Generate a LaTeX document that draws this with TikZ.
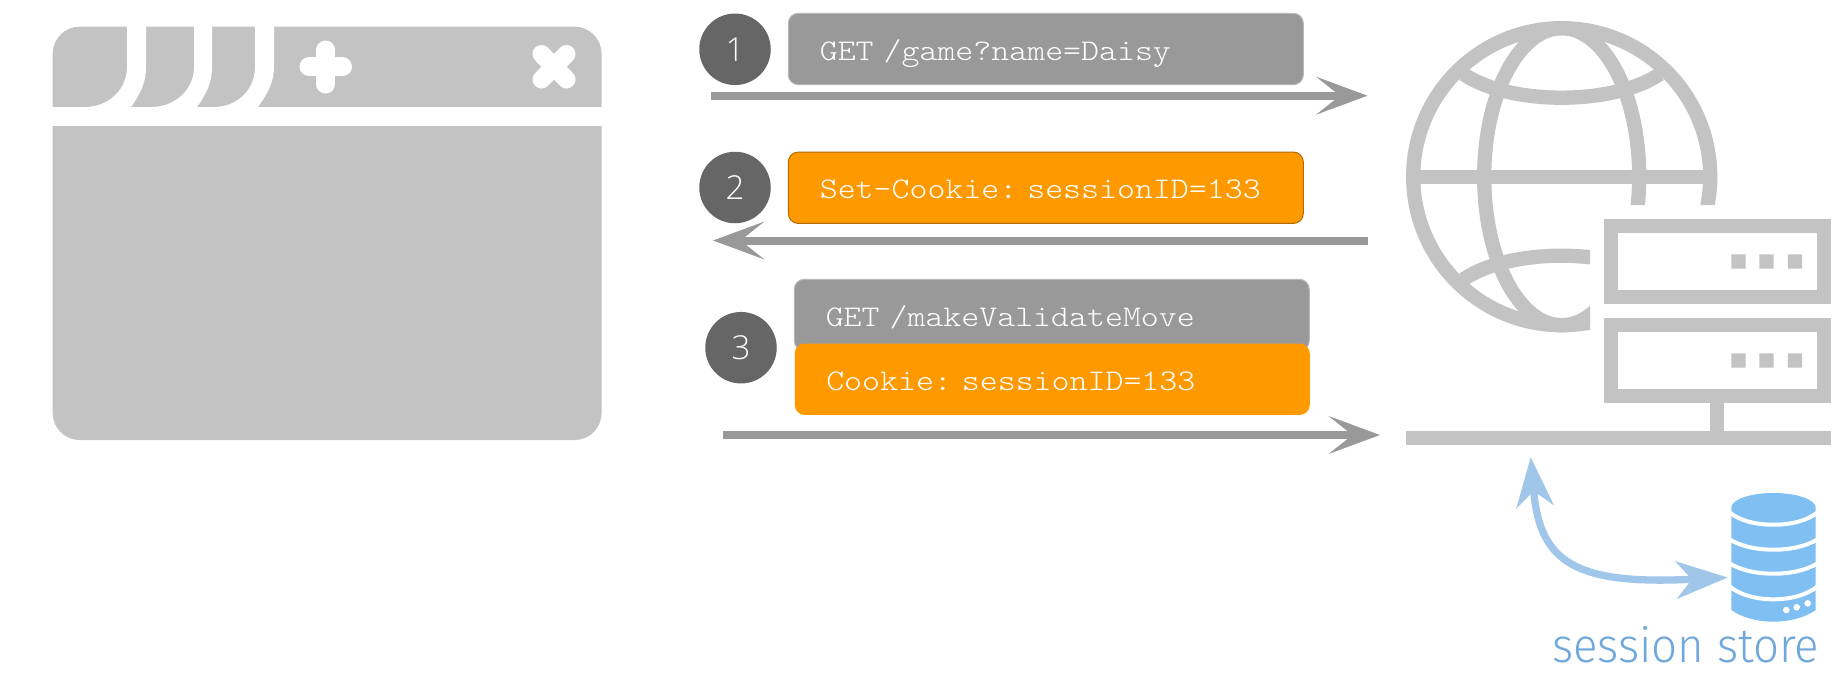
\documentclass[tikz,border=0pt]{standalone}
\usepackage{fontspec}
\usetikzlibrary{arrows.meta}
\newfontfamily\digitfont{Open Sans Light}
\newfontfamily\storefont[FakeStretch=0.95]{Fira Sans Light}
\newfontfamily\msgfont[FakeStretch=1.14]{Latin Modern Mono Light}
\definecolor{iconGrey}{HTML}{C3C3C3}
\definecolor{msgGrey}{HTML}{999999}
\definecolor{msgOrange}{HTML}{FF9900}
\definecolor{stepGrey}{HTML}{666666}
\definecolor{linkBlue}{HTML}{A0C6EA}
\definecolor{dbBlue}{HTML}{7FBFF2}
\definecolor{labelBlue}{HTML}{6FA8DC}
\tikzset{
  msgbox/.style={rectangle,rounded corners=10pt,minimum height=71.4pt,inner ysep=0pt,inner xsep=31.5pt,
    text width=452pt,align=left,text height=22pt,text depth=0pt,text=white,
    font=\msgfont\fontsize{30}{34}\selectfont\frenchspacing},
  stepdot/.style={circle,fill=stepGrey,minimum size=71.5pt,inner sep=0pt,text=white,
    font=\digitfont\fontsize{33}{36}\selectfont},
  flowarrow/.style={draw=msgGrey,line width=8pt,-{Stealth[length=51.5pt,width=38pt,inset=24pt,line width=0pt,fill=msgGrey]}},
  storearrow/.style={draw=linkBlue,line width=7.3pt,{Stealth[length=50pt,width=38pt,inset=16pt,line width=0pt,fill=linkBlue]}-{Stealth[length=52pt,width=38pt,inset=16pt,line width=0pt,fill=linkBlue]}},
  iconline/.style={draw=iconGrey,line width=14.3pt},
  dbsep/.style={draw=white,line width=4pt}
}
\begin{document}
\begin{tikzpicture}[x=1pt,y=-1pt]
\useasboundingbox (0,0) rectangle (1848,683);
\fill[white] (0,0) rectangle (1848,683);

% browser window
\fill[iconGrey,rounded corners=27pt] (52.7,26.7) rectangle (601.6,440);
\fill[white] (45,107) rectangle (610,126);
\fill[white] (127,25) -- (127,67) .. controls (127,90) and (108,107) .. (85,107) -- (85,109) -- (131,109) -- (131,107) .. controls (141,93) and (146,82) .. (146,67) -- (146,25) -- cycle;
\fill[white] (194,25) -- (194,67) .. controls (194,90) and (175,107) .. (151,107) -- (151,109) -- (197,109) -- (197,107) .. controls (207,93) and (212,82) .. (212,67) -- (212,25) -- cycle;
\fill[white] (255,25) -- (255,67) .. controls (255,90) and (237,107) .. (214,107) -- (214,109) -- (258,109) -- (258,107) .. controls (268,93) and (274,82) .. (274,67) -- (274,25) -- cycle;
\draw[white,line width=19pt,line cap=round] (325.7,50) -- (325.7,84) (309,66.7) -- (342.5,66.7);
\draw[white,line width=18pt,line cap=round] (541.5,54) -- (566.5,79.5) (566.5,54) -- (541.5,79.5);

% messages
\node[msgbox,fill=msgGrey,draw=msgGrey!70!white,line width=1pt] (req1) at (1045.8,49) {\mbox{GET /game?name=Daisy}};
\node[msgbox,fill=msgOrange,draw=msgOrange!70!black,line width=1pt] (resp2) at (1045.8,187.75) {\mbox{Set-Cookie: sessionID=133}};
\node[msgbox,fill=msgGrey,draw=msgGrey!70!white,line width=1pt] (req3) at (1051.75,315) {\mbox{GET /makeValidateMove}};
\node[msgbox,fill=msgOrange] (cookie3) at (1052.25,379.2) {\mbox{Cookie: sessionID=133}};

\node[stepdot] (s1) at (735,49.3) {1};
\node[stepdot] (s2) at (735,187.5) {2};
\node[stepdot] (s3) at (741,347.7) {3};

% flow arrows
\coordinate (a1s) at (711,95.7);
\coordinate (a1e) at (1367.5,95.7);
\coordinate (a2s) at (1368,240.5);
\coordinate (a2e) at (713,240.5);
\coordinate (a3s) at (723.3,435);
\coordinate (a3e) at (1380,435);
\draw[flowarrow] (a1s) -- (a1e);
\draw[flowarrow] (a2s) -- (a2e);
\draw[flowarrow] (a3s) -- (a3e);

% globe
\begin{scope}
\clip (1380,0) -- (1840,0) -- (1840,205) -- (1590,205) -- (1590,420) -- (1380,420) -- cycle;
\draw[iconline] (1561.7,176.7) circle[radius=148.5];
\draw[iconline] (1561.7,176.7) ellipse[x radius=77.5,y radius=148.5];
\draw[iconline] (1413.2,176.7) -- (1710.2,176.7);
\draw[iconline] (1463.3,74) .. controls (1510,105.6) and (1613,105.6) .. (1660,74);
\draw[iconline] (1463.3,279.4) .. controls (1510,247.8) and (1613,247.8) .. (1660,279.4);
\end{scope}

% server
\draw[iconline] (1610.7,226) rectangle (1823.7,296.7);
\draw[iconline] (1610.7,325) rectangle (1823.7,395.7);
\fill[iconGrey] (1731.3,254.3) rectangle +(14.4,14.4) (1759.3,254.3) rectangle +(14.4,14.4) (1787.8,254.3) rectangle +(14.4,14.4);
\fill[iconGrey] (1731.3,353.3) rectangle +(14.4,14.4) (1759.3,353.3) rectangle +(14.4,14.4) (1787.8,353.3) rectangle +(14.4,14.4);
\fill[iconGrey] (1710.3,402) rectangle (1724,432);
\fill[iconGrey] (1406,431) rectangle (1830.7,445.3);

% session store link
\coordinate (linkA) at (1530.7,457.3);
\coordinate (linkB) at (1727.7,577.5);
\draw[storearrow] (linkA) .. controls (1540,562) and (1575,585) .. (linkB);

% database
\fill[dbBlue] (1731.3,507.8) .. controls (1731.3,499.6) and (1750,493) .. (1773.5,493) .. controls (1797,493) and (1815.7,499.6) .. (1815.7,507.8) -- (1815.7,610) .. controls (1806,617) and (1790,621.7) .. (1773.5,621.7) .. controls (1757,621.7) and (1741,617) .. (1731.3,610) -- cycle;
\draw[dbsep] (1729,512) .. controls (1740,521) and (1756,524.7) .. (1773.5,524.7) .. controls (1791,524.7) and (1807,521) .. (1818,512);
\draw[dbsep] (1729,539) .. controls (1740,546) and (1756,549.7) .. (1773.5,549.7) .. controls (1791,549.7) and (1807,546) .. (1818,539);
\draw[dbsep] (1729,563) .. controls (1740,570) and (1756,573.7) .. (1773.5,573.7) .. controls (1791,573.7) and (1807,570) .. (1818,563);
\draw[dbsep] (1729,586) .. controls (1740,595) and (1756,599.3) .. (1773.5,599.3) .. controls (1791,599.3) and (1807,595) .. (1818,586);
\fill[white] (1786.3,610) circle[radius=3.3] (1796.7,607.3) circle[radius=3.3] (1807.7,603.3) circle[radius=3.3];

\node[anchor=base east,inner sep=0pt,text=labelBlue,font=\storefont\fontsize{48}{50}\selectfont] (store) at (1819.5,662.7) {session store};
\end{tikzpicture}
\end{document}
